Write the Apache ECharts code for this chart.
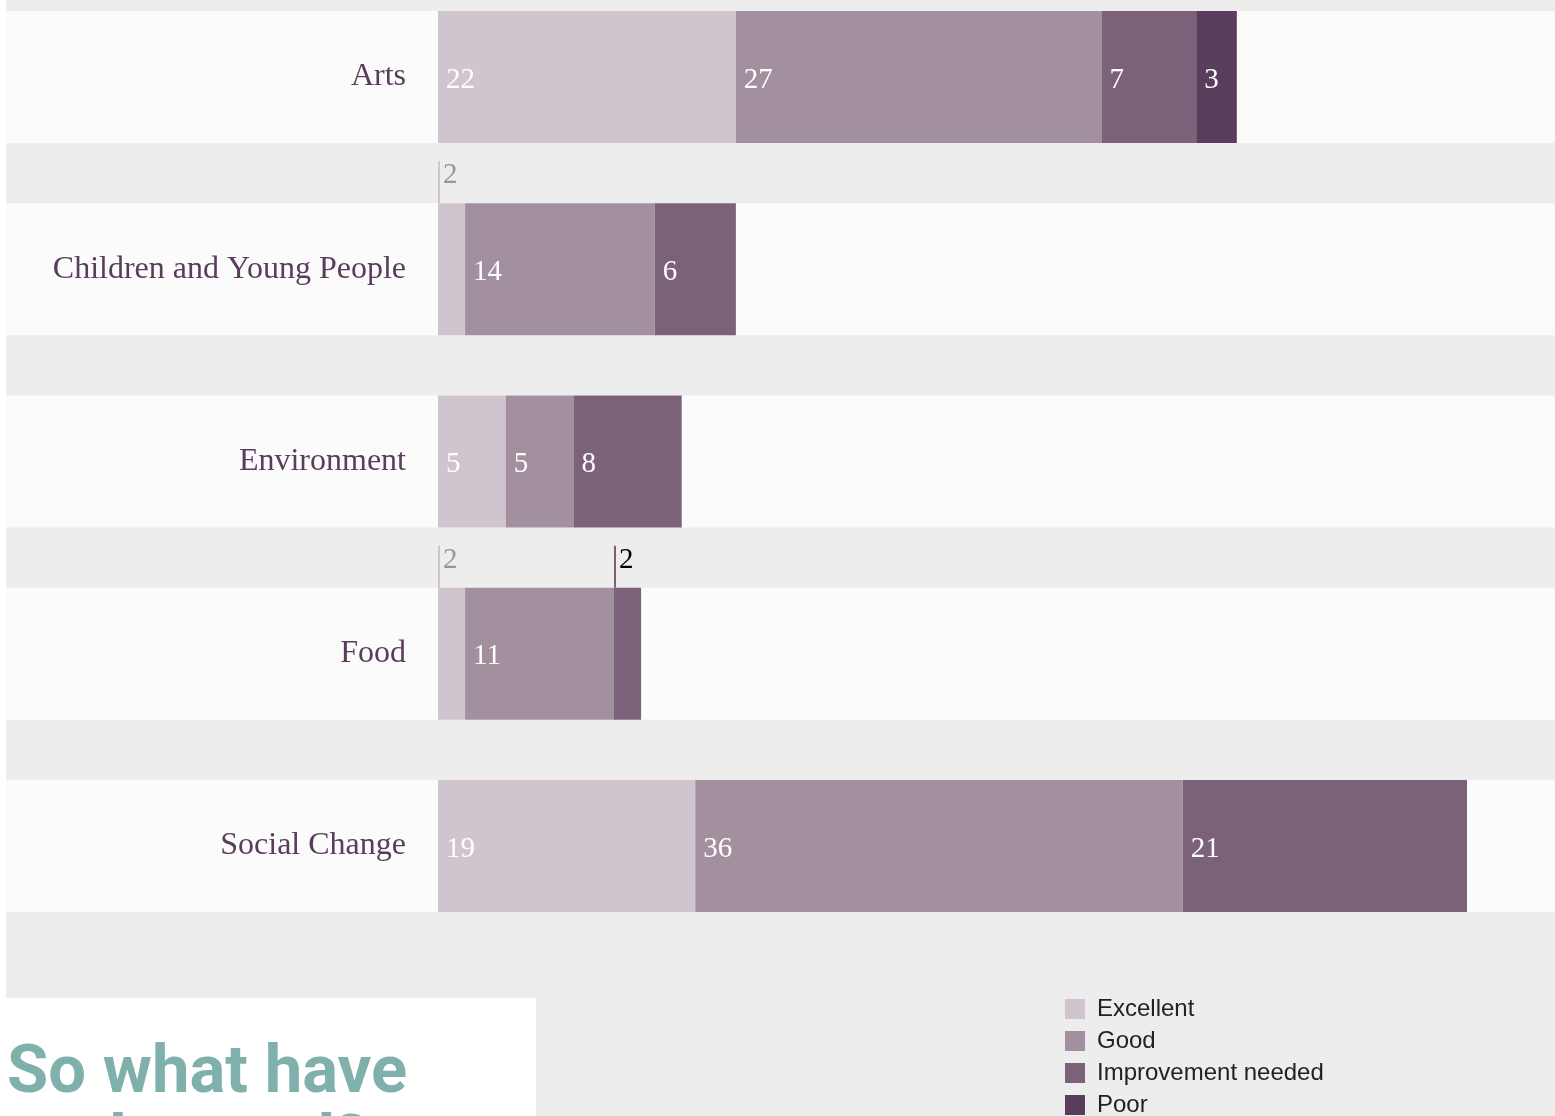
<!DOCTYPE html>
<html>
<head>
<meta charset="utf-8">
<script src="https://cdn.jsdelivr.net/npm/echarts@6/dist/echarts.min.js"></script>
<style>
html, body { margin: 0; padding: 0; background: #fff; }
#main { width: 1555px; height: 1116px; }
</style>
</head>
<body>
<div id="main"></div>
<script>
var categories = ['Arts', 'Children and Young People', 'Environment', 'Food', 'Social Change'];
var excellent = [22, 2, 5, 2, 19];
var good = [27, 14, 5, 11, 36];
var improvement = [7, 6, 8, 2, 21];
var poor = [3, 0, 0, 0, 0];
var seriesNames = ['Excellent', 'Good', 'Improvement needed', 'Poor'];
var seriesColors = ['#d0c4ce', '#a3909f', '#7c6279', '#5a3d5c'];
var calloutColors = ['#a3909f', '#a3909f', '#000', '#000'];
var headingLines = ['So what have', 'we learned?'];

var myChart = echarts.init(document.getElementById('main'));

// bars too narrow for a label get the number above, with a thin line
function makeData(values, idx) {
    return values.map(function(v) {
        if (!v) return '-';
        if (v > 2) return v;
        return {
            value: v,
            label: {
                position: [0, -42],
                offset: [0, 0],
                align: 'left',
                verticalAlign: 'top',
                formatter: '{l|}{n|{c}}',
                rich: {
                    l: { width: 2, height: 42, backgroundColor: seriesColors[idx] },
                    n: {
                        fontFamily: 'Liberation Serif', fontSize: 29, lineHeight: 26,
                        color: calloutColors[idx], verticalAlign: 'top', padding: [0, 0, 0, 3]
                    }
                }
            }
        };
    });
}

var values = [excellent, good, improvement, poor];

var series = [{
    type: 'custom',
    silent: true,
    clip: false,
    z: 0,
    renderItem: function(params, api) {
        var y = api.coord([0, api.value(1)])[1];
        var h = api.size([0, 1])[1] * 0.6875;
        return {
            type: 'rect',
            shape: { x: 6, y: y - h / 2, width: api.getWidth() - 6, height: h },
            style: { fill: '#fbfbfb' }
        };
    },
    encode: { x: 0, y: 1 },
    data: categories.map(function(c) { return [0, c]; })
}];

for (var i = 0; i < seriesNames.length; i++) {
    series.push({
        name: seriesNames[i],
        type: 'bar',
        stack: 'total',
        barWidth: 132,
        itemStyle: { color: seriesColors[i] },
        label: {
            show: true,
            position: 'insideLeft',
            distance: 8,
            offset: [0, 3],
            color: '#fff',
            fontFamily: 'Liberation Serif',
            fontSize: 29
        },
        data: makeData(values[i], i)
    });
}

var headingStyle = { fill: '#7fb0ac', fontFamily: 'Roboto', fontWeight: 'bold', fontSize: 67 };

myChart.setOption({
    backgroundColor: '#ededed',
    animation: false,
    grid: { left: 438, right: 0, top: 77, height: 769 },
    xAxis: { type: 'value', min: 0, max: 82.5, show: false },
    yAxis: {
        type: 'category',
        data: categories,
        inverse: true,
        boundaryGap: false,
        axisLine: { show: false },
        axisTick: { show: false },
        splitLine: { show: false },
        axisLabel: {
            color: '#5a3d5c',
            fontFamily: 'Liberation Serif',
            fontSize: 32,
            margin: 32,
            padding: [8, 0, 0, 0]
        }
    },
    legend: {
        data: seriesNames,
        orient: 'vertical',
        left: 1065,
        top: 997,
        height: 140,
        padding: 0,
        icon: 'rect',
        itemWidth: 20,
        itemHeight: 20,
        itemGap: 8,
        selectedMode: false,
        textStyle: {
            color: '#222',
            fontFamily: 'Liberation Sans',
            fontSize: 24,
            padding: [0, 0, 0, 7]
        }
    },
    graphic: [
        { type: 'rect', left: 0, top: 0, shape: { width: 6, height: 1116 }, style: { fill: '#fff' } },
        { type: 'rect', left: 0, top: 998, shape: { width: 536, height: 118 }, style: { fill: '#fff' } },
        { type: 'text', left: 7, top: 1042, style: Object.assign({ text: headingLines[0] }, headingStyle) },
        { type: 'text', left: 7, top: 1112, style: Object.assign({ text: headingLines[1] }, headingStyle) }
    ],
    series: series
});
</script>
</body>
</html>
